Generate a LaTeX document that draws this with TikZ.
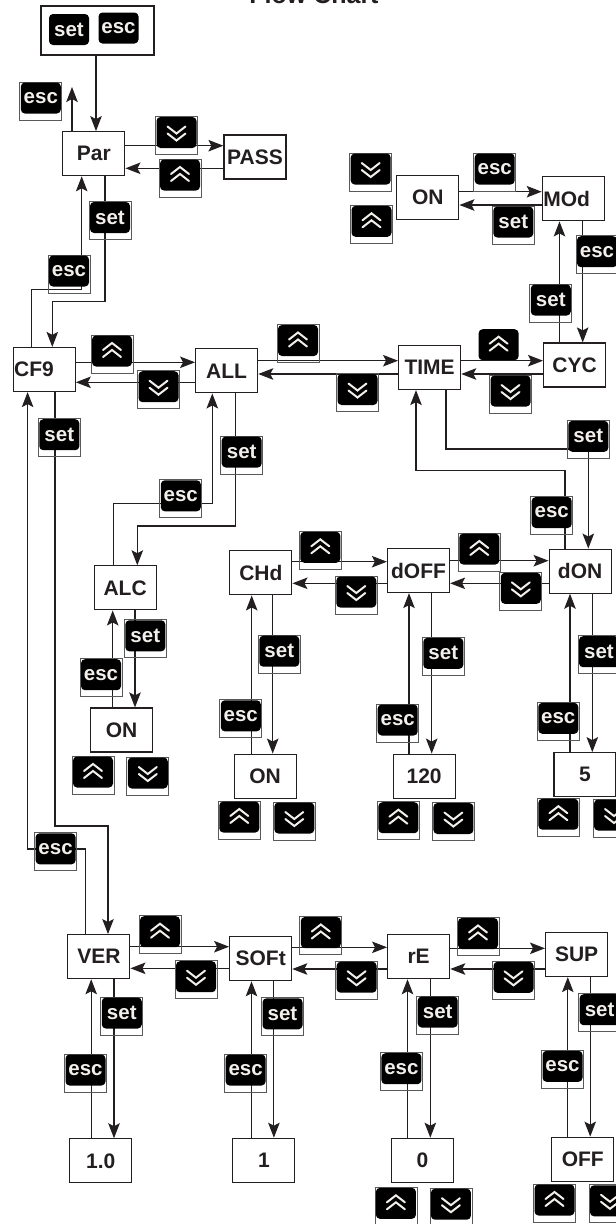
\documentclass[tikz,border=0pt]{standalone}
\usepackage{fontspec}
\setmainfont{Liberation Sans}
\usetikzlibrary{arrows.meta}
\definecolor{ink}{HTML}{231F20}
\definecolor{frm}{HTML}{58595B}
\definecolor{keytext}{HTML}{F2EEEA}
\tikzset{
  box/.style={draw=ink, line width=1.2pt, fill=white, minimum width=62pt, minimum height=44pt, inner sep=0pt, font=\fontsize{21}{21}\selectfont\bfseries, text=ink},
  key/.style={fill=black, rounded corners=4pt, minimum width=40pt, minimum height=31pt, inner sep=0pt, font=\fontsize{20.5}{20.5}\selectfont\bfseries, text=keytext},
  keyframe/.style={draw=frm, line width=0.8pt},
  chev/.style={draw=keytext, line width=2pt, line cap=round},
  arr/.style={draw=ink, line width=1.1pt, -{Stealth[length=15pt,width=11.5pt,inset=3pt]}},
  titlestyle/.style={font=\fontsize{25}{25}\selectfont\bfseries, text=ink, anchor=base, inner sep=0pt},
}
% key with text and frame
\newcommand\kf[4]{%
  \draw[keyframe] (#2-21,#3-16) rectangle (#2+21,#3+22);
  \node[key] (#1) at (#2,#3) {#4};}
% key with up chevrons
\newcommand\ku[3]{%
  \draw[keyframe] (#2-21,#3-16) rectangle (#2+21,#3+22);
  \node[key] (#1) at (#2,#3) {};
  \draw[chev] (#2-9,#3-1) -- (#2,#3-8) -- (#2+9,#3-1);
  \draw[chev] (#2-9,#3+6) -- (#2,#3-1) -- (#2+9,#3+6);}
% key with up chevrons, no frame
\newcommand\kuN[3]{%
  \node[key] (#1) at (#2,#3) {};
  \draw[chev] (#2-9,#3-1) -- (#2,#3-8) -- (#2+9,#3-1);
  \draw[chev] (#2-9,#3+6) -- (#2,#3-1) -- (#2+9,#3+6);}
% key with down chevrons
\newcommand\kd[3]{%
  \draw[keyframe] (#2-21,#3-16) rectangle (#2+21,#3+22);
  \node[key] (#1) at (#2,#3) {};
  \draw[chev] (#2-9,#3-6) -- (#2,#3+1) -- (#2+9,#3-6);
  \draw[chev] (#2-9,#3+1) -- (#2,#3+8) -- (#2+9,#3+1);}
\begin{document}
\begin{tikzpicture}[x=1pt,y=-1pt]
\useasboundingbox (0,0) rectangle (616,1224);
\fill[white] (0,0) rectangle (616,1224);

\node[titlestyle] (title) at (314,3) {Flow Chart};

% boxes
\node[box, minimum width=113pt, minimum height=49pt] (start) at (97.5,30.5) {};
\node[key] (kset0) at (69,29.5) {set};
\node[key] (kesc0) at (118.5,28) {esc};

\node[box] (Par) at (93.85,153.7) {Par};
\node[box] (PASS) at (255,157) {PASS};
\node[box] (ONm) at (427.85,197.15) {ON};
\node[box] (MOd) at (573.3,198.85) {\makebox[60pt][l]{MOd}};
\node[box] (CF9) at (44.2,369.5) {\makebox[60pt][l]{CF9}};
\node[box] (ALL) at (226.65,370.85) {ALL};
\node[box] (TIME) at (429.65,367.5) {TIME};
\node[box] (CYC) at (574.6,365) {CYC};
\node[box] (ALC) at (125.15,587.85) {ALC};
\node[box] (ONa) at (121.5,730) {ON};
\node[box] (CHd) at (260.85,572.85) {CHd};
\node[box] (ONc) at (265.15,776.15) {ON};
\node[box] (dOFF) at (418.5,570.5) {dOFF};
\node[box] (v120) at (424.15,776.15) {120};
\node[box] (dON) at (580.15,571.15) {dON};
\node[box] (v5) at (585,774.7) {5};
\node[box] (VER) at (98.85,956.65) {VER};
\node[box] (SOFt) at (260.7,958.7) {SOFt};
\node[box] (rE) at (418.65,956.65) {rE};
\node[box] (SUP) at (576.6,954.5) {SUP};
\node[box] (v10) at (100.8,1160.85) {1.0};
\node[box] (v1) at (263.85,1160.3) {1};
\node[box] (v0) at (422.4,1160.3) {0};
\node[box] (OFF) at (582.8,1159.2) {OFF};

% connectors
\draw[arr] (start.south -| 96,0) -- (Par.north -| 96,0);
\coordinate (parEsc) at (72,87);
\draw[arr] (Par.north -| parEsc) -- (parEsc);
\draw[arr] (Par.east |- 0,145.7) -- (PASS.west |- 0,145.7);
\draw[arr] (PASS.west |- 0,168.3) -- (Par.east |- 0,168.3);
\draw[arr] (Par.south -| 105,0) |- (52.3,301.7) -- (CF9.north -| 52.3,0);
\draw[arr] (CF9.north -| 31.4,0) |- (81.7,289.3) -- (Par.south -| 81.7,0);

\draw[arr] (CF9.east |- 0,362.3) -- (ALL.west |- 0,362.3);
\draw[arr] (ALL.west |- 0,382.3) -- (CF9.east |- 0,382.3);
\draw[arr] (ALL.east |- 0,360.7) -- (TIME.west |- 0,360.7);
\draw[arr] (TIME.west |- 0,374) -- (ALL.east |- 0,374);
\draw[arr] (TIME.east |- 0,360.7) -- (CYC.west |- 0,360.7);
\draw[arr] (CYC.west |- 0,374) -- (TIME.east |- 0,374);

\draw[arr] (ONm.east |- 0,191.7) -- (MOd.west |- 0,191.7);
\draw[arr] (MOd.west |- 0,205) -- (ONm.east |- 0,205);
\draw[arr] (MOd.south -| 582.7,0) -- (CYC.north -| 582.7,0);
\draw[arr] (CYC.north -| 559.5,0) -- (MOd.south -| 559.5,0);

\draw[arr] (ALL.south -| 235.7,0) |- (137.3,526) -- (ALC.north -| 137.3,0);
\draw[arr] (ALC.north -| 113.3,0) |- (212.3,503.3) -- (ALL.south -| 212.3,0);
\draw[arr] (ALC.south -| 135,0) -- (ONa.north -| 135,0);
\draw[arr] (ONa.north -| 112.7,0) -- (ALC.south -| 112.7,0);

\draw[arr] (TIME.south -| 446,0) |- (588.3,449) -- (dON.north -| 588.3,0);
\draw[arr] (dON.north -| 565,0) |- (416,470.7) -- (TIME.south -| 416,0);

\draw[arr] (CHd.east |- 0,561.7) -- (dOFF.west |- 0,561.7);
\draw[arr] (dOFF.west |- 0,583.3) -- (CHd.east |- 0,583.3);
\draw[arr] (dOFF.east |- 0,560.7) -- (dON.west |- 0,560.7);
\draw[arr] (dON.west |- 0,583.3) -- (dOFF.east |- 0,583.3);
\draw[arr] (CHd.south -| 272.7,0) -- (ONc.north -| 272.7,0);
\draw[arr] (ONc.north -| 251.7,0) -- (CHd.south -| 251.7,0);
\draw[arr] (dOFF.south -| 431.7,0) -- (v120.north -| 431.7,0);
\draw[arr] (v120.north -| 409,0) -- (dOFF.south -| 409,0);
\draw[arr] (dON.south -| 592.3,0) -- (v5.north -| 592.3,0);
\draw[arr] (v5.north -| 570,0) -- (dON.south -| 570,0);

\draw[arr] (CF9.south -| 55,0) |- (108,826) -- (VER.north -| 108,0);
\draw[arr] (VER.north -| 85.3,0) |- (27.6,849) -- (CF9.south -| 27.6,0);

\draw[arr] (VER.east |- 0,946.7) -- (SOFt.west |- 0,946.7);
\draw[arr] (SOFt.west |- 0,968.3) -- (VER.east |- 0,968.3);
\draw[arr] (SOFt.east |- 0,947.3) -- (rE.west |- 0,947.3);
\draw[arr] (rE.west |- 0,969) -- (SOFt.east |- 0,969);
\draw[arr] (rE.east |- 0,948.3) -- (SUP.west |- 0,948.3);
\draw[arr] (SUP.west |- 0,969) -- (rE.east |- 0,969);

\draw[arr] (VER.south -| 114,0) -- (v10.north -| 114,0);
\draw[arr] (v10.north -| 91.2,0) -- (VER.south -| 91.2,0);
\draw[arr] (SOFt.south -| 273.9,0) -- (v1.north -| 273.9,0);
\draw[arr] (v1.north -| 251.5,0) -- (SOFt.south -| 251.5,0);
\draw[arr] (rE.south -| 430.3,0) -- (v0.north -| 430.3,0);
\draw[arr] (v0.north -| 407.5,0) -- (rE.south -| 407.5,0);
\draw[arr] (SUP.south -| 590.2,0) -- (OFF.north -| 590.2,0);
\draw[arr] (OFF.north -| 567.8,0) -- (SUP.south -| 567.8,0);

% keys
\kf{k1}{40.85}{98}{esc}
\kd{k2}{176.5}{132.5}
\ku{k3}{180}{175}
\kf{k4}{110}{217.5}{set}
\kf{k5}{69}{271}{esc}
\kd{k6}{370.7}{169}
\ku{k7}{371.5}{221.3}
\kf{k8}{494.7}{169}{esc}
\kf{k9}{513.3}{222}{set}
\kf{k10}{597}{251.7}{esc}
\kf{k11}{550.8}{300}{set}
\ku{k12}{112}{351}
\kd{k13}{158.5}{386.7}
\ku{k14}{298}{340.5}
\kd{k15}{357.5}{389.5}
\kuN{k16}{498.6}{344.7}
\kd{k17}{510.5}{391}
\kf{k18}{59.3}{434.7}{set}
\kf{k19}{241.7}{452}{set}
\kf{k20}{180.8}{495.8}{esc}
\kf{k21}{588.3}{436.3}{set}
\kf{k22}{551.7}{512.5}{esc}
\ku{k23}{320.3}{547.3}
\kd{k24}{356.3}{592}
\ku{k25}{479.3}{549}
\kd{k26}{520.8}{588.3}
\kf{k27}{145.3}{635.8}{set}
\kf{k28}{101}{674.7}{esc}
\ku{k29}{93}{772}
\kd{k30}{147.8}{773}
\kf{k31}{279.3}{651.2}{set}
\kf{k32}{240.8}{715.8}{esc}
\ku{k33}{239.3}{817}
\kd{k34}{294.3}{818}
\kf{k35}{443.3}{653.3}{set}
\kf{k36}{397.7}{720}{esc}
\ku{k37}{398.4}{817.7}
\kd{k38}{453.4}{818.5}
\kf{k39}{599}{651.7}{set}
\kf{k40}{558.3}{718.3}{esc}
\ku{k41}{558.4}{814.2}
\kd{k42}{614}{815}
\kf{k43}{55.6}{848.8}{esc}
\ku{k44}{160}{931.7}
\kd{k45}{196}{976.7}
\ku{k46}{320.8}{932.5}
\kd{k47}{356.6}{977.2}
\ku{k48}{478}{933.5}
\kd{k49}{513.5}{977.3}
\kf{k50}{121.8}{1013}{set}
\kf{k51}{85.5}{1070}{esc}
\kf{k52}{282.5}{1013.8}{set}
\kf{k53}{245.6}{1070}{esc}
\kf{k54}{437.7}{1012}{set}
\kf{k55}{401.4}{1068.7}{esc}
\kf{k56}{599.6}{1009.7}{set}
\kf{k57}{562.5}{1066.3}{esc}
\ku{k58}{395.9}{1203.3}
\kd{k59}{450.9}{1204.2}
\ku{k60}{554.5}{1200}
\kd{k61}{610}{1200.8}
\end{tikzpicture}
\end{document}
